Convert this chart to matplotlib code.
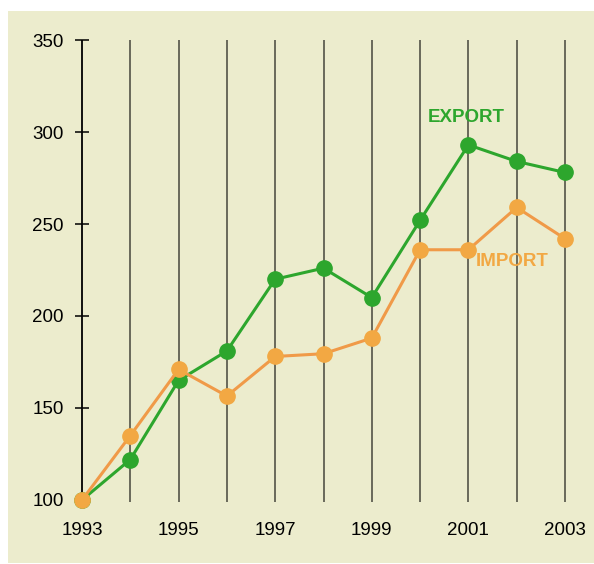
import matplotlib
matplotlib.use("Agg")
import matplotlib.pyplot as plt
from matplotlib.patches import Rectangle

years = [1993, 1994, 1995, 1996, 1997, 1998, 1999, 2000, 2001, 2002, 2003]
export_vals = [100, 122, 165, 181, 220, 226, 210, 252, 293, 284, 278]
import_vals = [100, 135, 171, 156.5, 178, 179.5, 188, 236, 236, 259, 242]
yticks = [100, 150, 200, 250, 300, 350]
xtick_years = [1993, 1995, 1997, 1999, 2001, 2003]

plt.rcParams['font.family'] = ['Liberation Sans', 'DejaVu Sans']

W, H = 594, 564
fig = plt.figure(figsize=(W / 100, H / 100), dpi=100)
fig.patch.set_facecolor('white')
bg = Rectangle((8 / W, 1 / H), (W - 8) / W, (553 - 1) / H,
               transform=fig.transFigure, facecolor='#ECECCD',
               edgecolor='none', zorder=-10)
fig.add_artist(bg)

ax = fig.add_axes([82 / W, 64 / H, 483 / W, 460 / H])
ax.set_facecolor('none')
ax.set_xlim(1993, 2003)
ax.set_ylim(100, 350)
for s in ax.spines.values():
    s.set_visible(False)

# vertical lines
ax.vlines(years[1:], 98.9, 350, colors='#45453c', linewidth=1.1, clip_on=False, zorder=1)
ax.vlines([years[0]], 98.9, 350, colors='black', linewidth=1.3, clip_on=False, zorder=1)

green = '#2DA62D'
orange_m = '#F2A843'
orange_l = '#F09A48'

ax.plot(years, export_vals, color=green, linewidth=2.2, marker='o', markersize=11,
        markerfacecolor=green, markeredgecolor=green, clip_on=False, zorder=3)
ax.plot(years, import_vals, color=orange_l, linewidth=2.2, marker='o', markersize=11,
        markerfacecolor=orange_m, markeredgecolor=orange_m, clip_on=False, zorder=4)

ax.set_yticks(yticks)
ax.set_yticklabels([str(v) for v in yticks])
ax.tick_params(axis='y', direction='inout', length=10, width=1.1, color='black',
               pad=8, labelsize=13.5)
ax.set_xticks(xtick_years)
ax.set_xticklabels([str(v) for v in xtick_years])
ax.tick_params(axis='x', length=0, pad=15.5, labelsize=13.5)

ax.text(2000.95, 308, 'EXPORT', color=green, fontsize=13.5, fontweight='bold',
        ha='center', va='center')
ax.text(2001.9, 229.5, 'IMPORT', color=orange_m, fontsize=13.5, fontweight='bold',
        ha='center', va='center')

fig.savefig('out.png', dpi=100)
